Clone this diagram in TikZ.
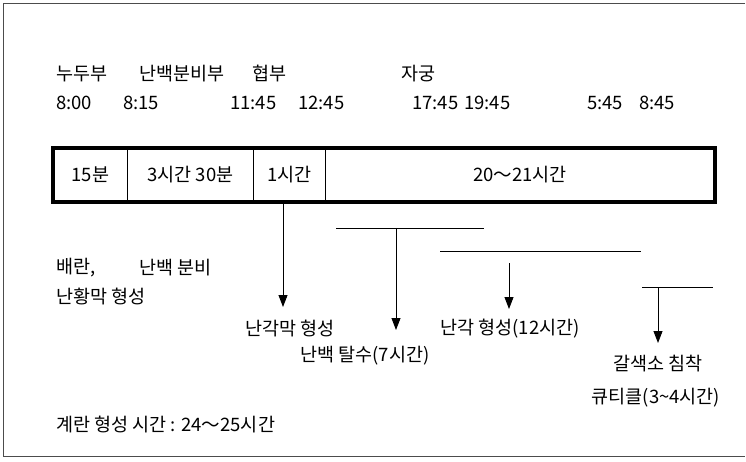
\documentclass[tikz,border=0pt]{standalone}
\usepackage{fontspec}
\setmainfont{Noto Sans CJK KR}
\usetikzlibrary{arrows.meta}
\begin{document}
\begin{tikzpicture}[x=1pt,y=-1pt,
  lbl/.style={inner sep=0pt,font=\fontsize{18.5}{20}\selectfont,text=black},
  lft/.style={lbl,anchor=west},
  cell/.style={draw,line width=0.8pt,minimum height=53pt,inner sep=0pt,anchor=north west},
  arr/.style={line width=0.9pt,-{Triangle[width=9pt,length=12pt]}},
  hline/.style={line width=0.9pt}]
\useasboundingbox (0,0) rectangle (746,462);
\draw[black!70,line width=0.8pt] (745,3) -- (3,3) -- (3,456) -- (745,456);
% top labels
\node[lft] (t1) at (56,74) {누두부};
\node[lft] (t2) at (139,74) {난백분비부};
\node[lft] (t3) at (252,74) {협부};
\node[lft] (t4) at (401,74) {자궁};
% times
\node[lft] (h1) at (56,103) {8:00};
\node[lft] (h2) at (123,103) {8:15};
\node[lft] (h3) at (230,103) {11:45};
\node[lft] (h4) at (298,103) {12:45};
\node[lft] (h5) at (412,103) {17:45};
\node[lft] (h6) at (464,103) {19:45};
\node[lft] (h7) at (587,103) {5:45};
\node[lft] (h8) at (639,103) {8:45};
% box
\node[cell,minimum width=74pt] (c1) at (53,148) {};
\node[cell,minimum width=126pt] (c2) at (127,148) {};
\node[cell,minimum width=72pt] (c3) at (253,148) {};
\node[cell,minimum width=389pt] (c4) at (325,148) {};
\draw[line width=3.5pt] (c1.north west) rectangle (c4.south east);
\node[lbl] at (c1.center) {15분};
\node[lbl] at (c2.center) {3시간 30분};
\node[lbl] at (c3.center) {1시간};
\node[lbl] at (c4.center) {20～21시간};
% connectors
\coordinate (a1s) at (283,204);
\coordinate (a1e) at (283,307);
\draw[arr] (a1s) -- (a1e);
\coordinate (l2a) at (336,228);
\coordinate (l2b) at (484,228);
\draw[hline] (l2a) -- (l2b);
\coordinate (a2s) at (396,228);
\coordinate (a2e) at (396,330);
\draw[arr] (a2s) -- (a2e);
\coordinate (l3a) at (440,251);
\coordinate (l3b) at (641,251);
\draw[hline] (l3a) -- (l3b);
\coordinate (a3s) at (509,263);
\coordinate (a3e) at (509,309);
\draw[arr] (a3s) -- (a3e);
\coordinate (l4a) at (642,287);
\coordinate (l4b) at (713,287);
\draw[hline] (l4a) -- (l4b);
\coordinate (a4s) at (658,287);
\coordinate (a4e) at (658,343);
\draw[arr] (a4s) -- (a4e);
% lower labels
\node[lft] (b1) at (56,268) {배란,};
\node[lft] (b2) at (139,268) {난백 분비};
\node[lft] (b3) at (56,297) {난황막 형성};
\node[lbl] (b4) at (290,329) {난각막 형성};
\node[lbl] (b5) at (365,356) {난백 탈수(7시간)};
\node[lbl] (b6) at (510,329) {난각 형성(12시간)};
\node[lbl] (b7) at (658,364) {갈색소 침착};
\node[lbl] (b8) at (656,398) {큐티클(3\textasciitilde 4시간)};
\node[lft] (b9) at (56,425) {계란 형성 시간 : 24～25시간};
\end{tikzpicture}
\end{document}
